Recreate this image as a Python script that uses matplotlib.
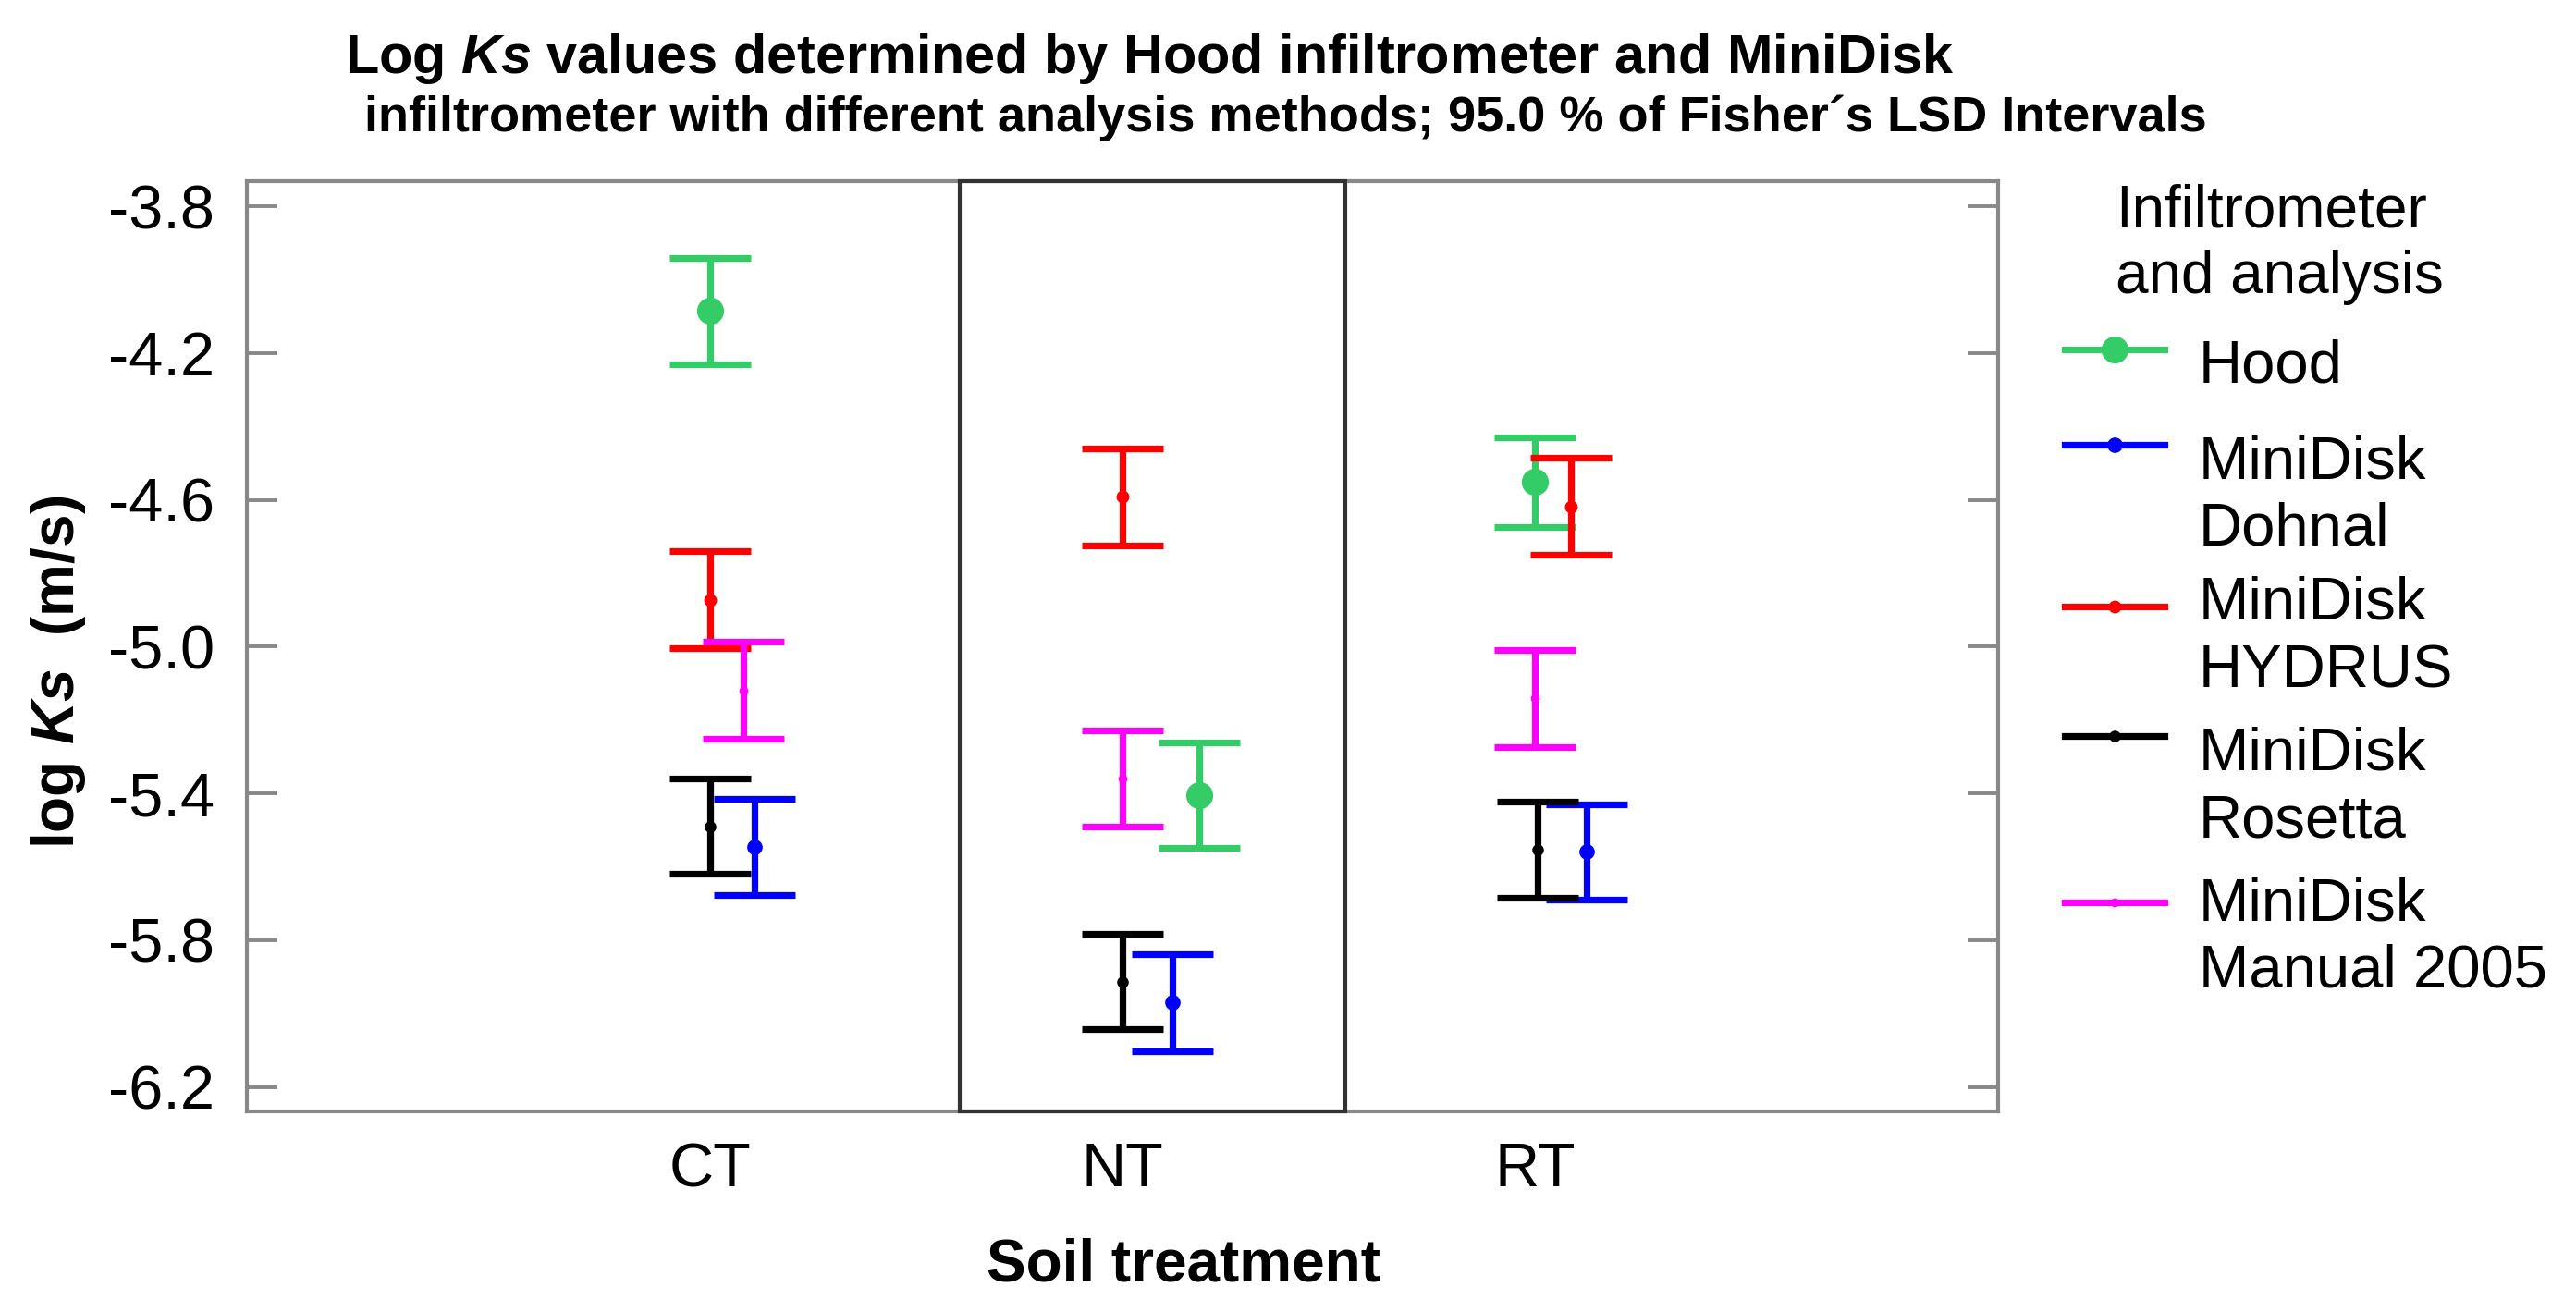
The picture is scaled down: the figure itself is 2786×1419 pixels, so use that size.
import matplotlib.pyplot as plt
import numpy as np
from matplotlib.lines import Line2D

plt.rcParams['font.family'] = ['Liberation Sans', 'DejaVu Sans']
plt.rcParams['mathtext.fontset'] = 'custom'
plt.rcParams['mathtext.it'] = 'Liberation Sans:italic'
plt.rcParams['mathtext.bf'] = 'Liberation Sans:bold'
plt.rcParams['mathtext.bfit'] = 'Liberation Sans:bold:italic'

# soil treatments
categories = ['CT', 'NT', 'RT']

# series: mean log Ks and LSD half-width
series_names = ['Hood', 'MiniDisk\nDohnal', 'MiniDisk\nHYDRUS', 'MiniDisk\nRosetta', 'MiniDisk\nManual 2005']
hood_mean = [-4.085, -5.405, -4.551]
hood_lsd = [0.145, 0.143, 0.122]
dohnal_mean = [-5.545, -5.970, -5.559]
dohnal_lsd = [0.131, 0.132, 0.130]
hydrus_mean = [-4.872, -4.591, -4.617]
hydrus_lsd = [0.132, 0.132, 0.132]
rosetta_mean = [-5.489, -5.913, -5.553]
rosetta_lsd = [0.130, 0.130, 0.131]
manual_mean = [-5.119, -5.359, -5.141]
manual_lsd = [0.133, 0.131, 0.132]

means = [hood_mean, dohnal_mean, hydrus_mean, rosetta_mean, manual_mean]
lsds = [hood_lsd, dohnal_lsd, hydrus_lsd, rosetta_lsd, manual_lsd]

# horizontal dodge used by the original software to separate overlapping bars
dodge = [[0, 0.185, 0], [0.107, 0.120, 0.125], [0, 0, 0.087], [0, 0, 0.007], [0.082, 0, 0]]
colors = ['#33cc66', '#0000ff', '#ff0000', '#000000', '#ff00ff']
msizes = [9.5, 5.0, 4.0, 3.5, 2.5]

fig = plt.figure(figsize=(13.93, 7.095), dpi=200)
ax = fig.add_axes([0.0958, 0.1529, 0.6799, 0.709])

x = np.arange(len(categories))
for m, e, d, c, ms in zip(means, lsds, dodge, colors, msizes):
    ax.errorbar(x + np.array(d), m, yerr=e, fmt='o', color=c, ms=ms,
                elinewidth=2.6, capsize=15.8, capthick=2.6, zorder=3)

ax.set_xlim(-1.123, 3.123)
ax.set_ylim(-6.2665, -3.731)
ax.set_yticks([-3.8, -4.2, -4.6, -5.0, -5.4, -5.8, -6.2])
ax.set_yticklabels(['-3.8', '-4.2', '-4.6', '-5.0', '-5.4', '-5.8', '-6.2'])
ax.set_xticks(x)
ax.set_xticklabels(categories)

ax.tick_params(axis='y', which='both', direction='in', length=12, width=1.4,
               color='#888888', left=True, right=True, labelsize=24, pad=12.5)
ax.tick_params(axis='x', length=0, labelsize=24, pad=12)
for s in ax.spines.values():
    s.set_color('#888888')
    s.set_linewidth(1.5)

# highlighted NT column (drawn over the grey frame)
ax.axvspan(0.605, 1.540, fill=False, edgecolor='#333333', linewidth=1.5, zorder=2.7, clip_on=False)

# titles and labels
fig.text(373 / 2786, 1 - 79 / 1419, r'Log $\mathbfit{Ks}$ values determined by Hood infiltrometer and MiniDisk',
         fontsize=21.4, fontweight='bold', ha='left', va='baseline')
fig.text(394 / 2786, 1 - 142 / 1419, 'infiltrometer with different analysis methods; 95.0 % of Fisher´s LSD Intervals',
         fontsize=19.5, fontweight='bold', ha='left', va='baseline')
fig.text(1280 / 2786, 1 - 1386 / 1419, 'Soil treatment', fontsize=23, fontweight='bold',
         ha='center', va='baseline')
fig.text(63 / 2786, 1 - 727 / 1419, r'log $\mathbfit{Ks}$  (m/s)', fontsize=23, fontweight='bold',
         rotation=90, ha='center', va='center')

# legend drawn by hand so handles line up with the first text line
fig.text(2288 / 2786, 1 - 246 / 1419, 'Infiltrometer', fontsize=23, ha='left', va='baseline')
fig.text(2288 / 2786, 1 - 317 / 1419, 'and analysis', fontsize=23, ha='left', va='baseline')
handle_y = [378, 481, 656, 796, 976]
text_base = [413, 517, 670, 832, 995]
for name, c, ms, hy, tb in zip(series_names, colors, msizes, handle_y, text_base):
    fy = 1 - hy / 1419
    fig.add_artist(Line2D([2233 / 2786, 2341 / 2786], [fy, fy], color=c, lw=2.6))
    fig.add_artist(Line2D([2287 / 2786], [fy], color=c, marker='o', ms=ms, lw=0))
    for k, line in enumerate(name.split('\n')):
        fig.text(2378 / 2786, 1 - (tb + 73 * k) / 1419, line, fontsize=23.5, ha='left', va='baseline')

fig.savefig('out.png', dpi=200)
